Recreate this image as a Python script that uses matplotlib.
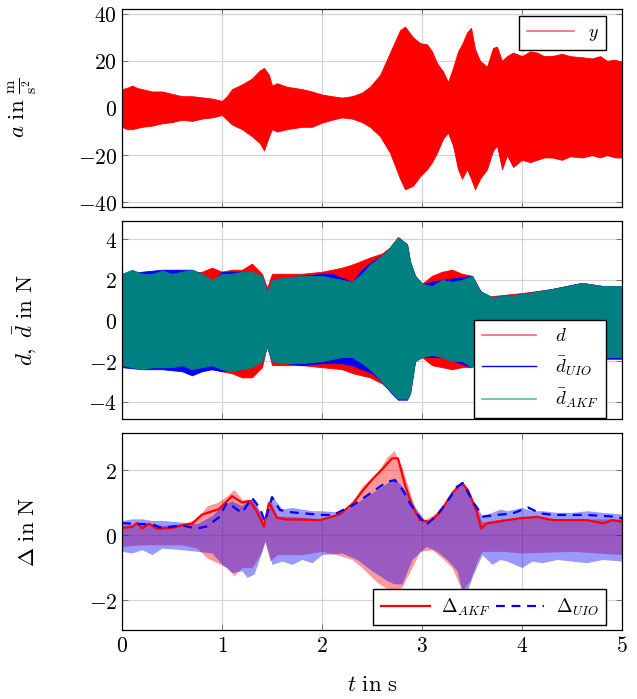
import numpy as np
import matplotlib
matplotlib.use("Agg")
import matplotlib.pyplot as plt
from matplotlib.ticker import FuncFormatter
from matplotlib.lines import Line2D

plt.rcParams['mathtext.fontset'] = 'cm'
plt.rcParams['font.family'] = 'serif'
plt.rcParams['font.serif'] = ['DejaVu Serif']

# --- panel 1: acceleration y (envelope) ---
t_y = [0.00, 0.05, 0.10, 0.15, 0.20, 0.30, 0.40, 0.50, 0.60, 0.70, 0.80, 0.90, 1.00,
       1.05, 1.10, 1.20, 1.30, 1.38, 1.42, 1.47, 1.50, 1.55, 1.65, 1.80, 1.90,
       2.00, 2.10, 2.20, 2.30, 2.40, 2.48, 2.58, 2.68, 2.78, 2.83, 2.91, 2.98,
       3.05, 3.10, 3.15, 3.21, 3.26, 3.31, 3.36, 3.40, 3.45, 3.49, 3.53, 3.58,
       3.65, 3.71, 3.75, 3.80, 3.85, 3.91, 4.00, 4.08, 4.15, 4.22, 4.30, 4.40,
       4.48, 4.60, 4.70, 4.78, 4.85, 4.93, 5.00]
y_up = [8, 8.5, 9.5, 8.5, 8, 7, 7, 6, 5, 5, 4.5, 4, 3,
        5, 8, 10, 12.5, 16, 17, 14, 9.5, 10.5, 9, 8, 7,
        5.7, 5, 4.4, 5, 6.5, 9, 14, 23.5, 33, 34.5, 30, 27.5,
        27, 24, 19, 15.5, 11, 17, 24, 27, 32, 34, 25, 20,
        17.5, 25.5, 26, 20, 22, 23.5, 22, 24, 23.5, 22, 22, 23,
        22, 21.5, 21, 22, 20, 20.5, 19.5]
y_lo = [-8, -9, -9, -8.5, -8, -7.5, -6.5, -6, -5, -5.5, -4.5, -4, -3,
        -5, -7, -9, -12, -15, -18, -12, -9, -10, -9, -8, -8,
        -6.2, -5, -4, -4.5, -6, -8, -12, -19, -30, -34.5, -33, -29,
        -26, -23, -19, -13, -10.5, -16, -26, -30, -26, -30, -34.5, -30,
        -26, -18, -16, -26, -20, -25, -22, -23, -22, -21, -21, -22,
        -20.5, -21, -20, -21, -20, -21, -21]

# --- panel 2: disturbance d and estimates ---
t_akf = [0.00, 0.10, 0.20, 0.30, 0.40, 0.50, 0.60, 0.70, 0.80, 0.90, 1.00, 1.10,
         1.20, 1.30, 1.40, 1.45, 1.50, 1.60, 1.80, 2.00, 2.20, 2.30, 2.40, 2.48,
         2.60, 2.68, 2.76, 2.85, 2.88, 2.93, 3.00, 3.10, 3.20, 3.30, 3.40, 3.50,
         3.58, 3.70, 4.00, 4.30, 4.60, 4.80, 5.00]
akf_up = [2.3, 2.5, 2.3, 2.3, 2.45, 2.3, 2.4, 2.5, 2.3, 2.0, 2.3, 2.3,
          2.4, 2.4, 2.2, 1.4, 2.0, 2.1, 2.2, 2.2, 2.0, 1.9, 2.3, 2.75,
          3.2, 3.6, 4.1, 3.75, 2.9, 2.2, 1.8, 1.7, 2.0, 1.9, 2.0, 2.2,
          1.45, 1.15, 1.3, 1.55, 1.85, 1.7, 1.7]
akf_lo = [-2.2, -2.3, -2.4, -2.3, -2.3, -2.3, -2.2, -2.4, -2.3, -2.2, -2.4, -2.5,
          -2.4, -2.3, -2.0, -1.3, -2.0, -2.1, -2.1, -2.0, -1.8, -1.8, -2.1, -2.4,
          -3.0, -3.45, -3.85, -3.85, -3.6, -2.0, -1.8, -1.7, -1.8, -2.0, -2.0, -2.3,
          -1.5, -1.2, -1.3, -1.5, -1.7, -1.8, -1.8]

t_uio = [0.00, 0.20, 0.40, 0.60, 0.70, 0.80, 0.90, 1.00, 1.10, 1.20, 1.40, 1.45,
         1.50, 1.80, 2.00, 2.10, 2.20, 2.30, 2.40, 2.50, 2.60, 2.68, 2.76, 2.85,
         2.88, 2.93, 3.00, 3.20, 3.50, 3.58, 3.70, 4.00, 4.30, 4.60, 4.80, 5.00]
uio_up = [2.3, 2.4, 2.5, 2.5, 2.5, 2.3, 1.9, 2.4, 2.4, 2.4, 2.2, 1.3,
          2.0, 2.2, 2.3, 2.3, 2.1, 1.9, 2.5, 2.9, 3.2, 3.6, 4.1, 3.75,
          2.9, 2.2, 1.8, 2.0, 2.2, 1.45, 1.15, 1.3, 1.55, 1.85, 1.7, 1.7]
uio_lo = [-2.3, -2.4, -2.4, -2.5, -2.7, -2.5, -2.4, -2.5, -2.4, -2.4, -2.0, -1.3,
          -2.0, -2.2, -2.1, -2.1, -2.1, -2.2, -2.4, -2.6, -3.0, -3.5, -3.9, -3.9,
          -3.6, -2.0, -1.8, -1.8, -2.3, -1.5, -1.2, -1.3, -1.5, -1.75, -1.85, -1.85]

t_d = [0.00, 0.20, 0.40, 0.60, 0.80, 0.90, 1.00, 1.10, 1.20, 1.30, 1.40, 1.45,
       1.50, 1.80, 2.00, 2.20, 2.31, 2.48, 2.60, 2.68, 2.76, 2.85, 2.88, 2.93,
       3.00, 3.10, 3.20, 3.30, 3.40, 3.50, 3.58, 3.65, 3.70, 4.00, 4.30, 4.60,
       4.80, 5.00]
d_up = [2.3, 2.3, 2.3, 2.3, 2.4, 2.6, 2.4, 2.5, 2.5, 2.8, 2.3, 1.6,
        2.3, 2.3, 2.4, 2.6, 2.77, 3.1, 3.3, 3.6, 4.1, 3.75, 2.9, 2.2,
        1.8, 2.2, 2.4, 2.5, 2.3, 2.2, 1.5, 1.0, 1.2, 1.35, 1.55, 1.85,
        1.7, 1.7]
d_lo = [-2.2, -2.3, -2.3, -2.3, -2.3, -2.4, -2.5, -2.6, -2.8, -2.8, -2.3, -1.2,
        -2.2, -2.2, -2.3, -2.4, -2.6, -2.8, -3.1, -3.45, -3.85, -3.85, -3.6, -2.0,
        -1.8, -2.2, -2.3, -2.4, -2.3, -2.3, -1.5, -1.2, -1.2, -1.3, -1.5, -1.75,
        -1.9, -1.9]

# --- panel 3: estimation errors ---
t_eakf = [0.00, 0.20, 0.40, 0.60, 0.75, 0.85, 0.95, 1.05, 1.12, 1.20, 1.30, 1.38,
          1.43, 1.48, 1.55, 1.80, 2.00, 2.20, 2.30, 2.40, 2.55, 2.65, 2.72, 2.80,
          2.90, 2.98, 3.10, 3.20, 3.30, 3.40, 3.48, 3.55, 3.60, 3.80, 4.00, 4.50, 5.00]
eakf_up = [0.3, 0.35, 0.3, 0.35, 0.5, 0.9, 1.0, 1.2, 1.4, 1.1, 1.1, 0.7,
           0.3, 1.1, 0.6, 0.55, 0.5, 0.7, 1.0, 1.5, 1.9, 2.4, 2.6, 2.1,
           1.1, 0.4, 0.6, 0.85, 1.3, 1.6, 1.3, 0.8, 0.4, 0.5, 0.55, 0.5, 0.5]
eakf_lo = [-0.35, -0.3, -0.3, -0.3, -0.4, -0.7, -0.85, -1.0, -1.25, -1.0, -1.0, -0.6,
           -0.2, -0.8, -0.6, -0.6, -0.5, -0.65, -0.75, -1.0, -1.45, -1.65, -1.75, -1.6,
           -1.0, -0.5, -0.45, -0.7, -1.0, -1.7, -1.4, -0.8, -0.5, -0.5, -0.55, -0.5, -0.6]

t_euio = [0.00, 0.10, 0.20, 0.30, 0.40, 0.60, 0.75, 0.90, 1.00, 1.10, 1.20, 1.25,
          1.32, 1.40, 1.43, 1.50, 1.60, 1.70, 1.80, 1.90, 2.00, 2.20, 2.35, 2.50,
          2.65, 2.72, 2.80, 2.90, 3.04, 3.15, 3.25, 3.35, 3.42, 3.50, 3.60, 3.70,
          3.78, 3.85, 4.00, 4.10, 4.20, 4.35, 4.50, 4.65, 4.80, 5.00]
euio_up = [0.45, 0.5, 0.5, 0.45, 0.45, 0.4, 0.35, 0.6, 0.9, 1.05, 0.9, 1.1,
           1.1, 0.6, 0.35, 1.2, 0.8, 0.85, 0.8, 0.75, 0.75, 0.7, 1.0, 1.3,
           1.6, 1.75, 1.5, 1.0, 0.4, 0.65, 1.0, 1.5, 1.6, 1.1, 0.6, 0.7,
           0.8, 0.75, 0.85, 0.75, 0.75, 0.7, 0.7, 0.75, 0.7, 0.65]
euio_lo = [-0.5, -0.55, -0.45, -0.6, -0.4, -0.45, -0.5, -0.55, -0.9, -1.15, -1.1, -1.3,
           -1.2, -0.5, -0.2, -0.9, -0.8, -0.9, -0.75, -0.85, -0.6, -0.55, -0.75, -1.1,
           -1.4, -1.5, -1.5, -0.75, -0.35, -0.5, -0.75, -1.1, -2.0, -1.3, -0.6, -0.9,
           -0.75, -0.8, -1.0, -0.8, -0.85, -0.75, -0.8, -0.85, -0.75, -0.8]

# mean error curves
t_dakf = [0.00, 0.10, 0.15, 0.20, 0.27, 0.35, 0.50, 0.60, 0.70, 0.80, 0.90, 0.97,
          1.10, 1.20, 1.28, 1.35, 1.42, 1.47, 1.55, 1.65, 1.75, 1.98, 2.18, 2.31,
          2.41, 2.51, 2.61, 2.70, 2.76, 2.83, 2.90, 2.98, 3.08, 3.18, 3.31, 3.40,
          3.46, 3.55, 3.59, 3.65, 3.75, 3.98, 4.15, 4.31, 4.65, 4.81, 4.90, 5.00]
dakf = [0.22, 0.25, 0.37, 0.2, 0.35, 0.2, 0.22, 0.3, 0.35, 0.63, 0.73, 0.8,
        1.2, 1.0, 1.05, 0.72, 0.26, 0.99, 0.53, 0.48, 0.48, 0.46, 0.64, 0.98,
        1.38, 1.74, 2.05, 2.36, 2.36, 1.54, 0.92, 0.46, 0.41, 0.7, 1.32, 1.6,
        1.38, 0.7, 0.21, 0.36, 0.41, 0.52, 0.56, 0.46, 0.46, 0.36, 0.46, 0.41]

t_duio = [0.00, 0.10, 0.30, 0.40, 0.60, 0.75, 0.85, 0.97, 1.05, 1.10, 1.20, 1.30,
          1.38, 1.43, 1.50, 1.58, 1.70, 1.85, 2.00, 2.11, 2.31, 2.48, 2.65, 2.73,
          2.81, 2.88, 2.96, 3.04, 3.15, 3.25, 3.35, 3.41, 3.51, 3.61, 3.75, 3.91,
          4.06, 4.18, 4.31, 4.65, 4.91, 5.00]
duio = [0.37, 0.35, 0.33, 0.22, 0.3, 0.2, 0.27, 0.55, 1.0, 0.9, 0.68, 1.15,
        0.82, 0.41, 1.17, 0.77, 0.7, 0.66, 0.62, 0.62, 0.92, 1.28, 1.64, 1.69,
        1.38, 0.97, 0.62, 0.31, 0.62, 1.02, 1.49, 1.6, 1.02, 0.57, 0.62, 0.67,
        0.85, 0.67, 0.62, 0.62, 0.57, 0.52]

teal = '#008080'

fig = plt.figure(figsize=(6.37, 6.99), dpi=100)
ax1 = fig.add_axes([0.1915, 0.7039, 0.785, 0.2833])
ax2 = fig.add_axes([0.1915, 0.4006, 0.785, 0.2833])
ax3 = fig.add_axes([0.1915, 0.0987, 0.785, 0.2818])

fmt = FuncFormatter(lambda v, p: r'$%g$' % v)

for ax in (ax1, ax2, ax3):
    ax.set_xlim(0, 5)
    ax.set_xticks([0, 1, 2, 3, 4, 5])
    ax.grid(True, color='#d4d4d4', lw=0.9)
    ax.set_axisbelow(True)
    ax.tick_params(direction='in', length=4, width=0.6, color='#666666',
                   top=True, right=True, labelsize=15.5)
    ax.yaxis.set_major_formatter(fmt)
    ax.xaxis.set_major_formatter(fmt)
    for s in ax.spines.values():
        s.set_linewidth(0.9)
    ax.yaxis.set_label_coords(-0.165, 0.5)

ax1.tick_params(labelbottom=False)
ax2.tick_params(labelbottom=False)

# panel 1
ax1.fill_between(t_y, y_lo, y_up, color='red', lw=0.6, edgecolor='red')
ax1.set_ylim(-42, 42)
ax1.set_yticks([-40, -20, 0, 20, 40])
ax1.set_ylabel(r'$a\ \mathrm{in}\ \frac{\mathrm{m}}{\mathrm{s}^2}$', fontsize=16.5)
ax1.legend([Line2D([], [], color='red', alpha=0.6, lw=1.2)], [r'$y$'],
           loc='upper right', bbox_to_anchor=(0.968, 0.965), borderaxespad=0,
           fancybox=False, framealpha=1, edgecolor='black', fontsize=13,
           handlelength=2.6)

# panel 2
ax2.fill_between(t_d, d_lo, d_up, color='red', lw=0.6, edgecolor='red')
ax2.fill_between(t_uio, uio_lo, uio_up, color='blue', lw=0.6, edgecolor='blue')
ax2.fill_between(t_akf, akf_lo, akf_up, color=teal, lw=0.6, edgecolor=teal)
ax2.set_ylim(-4.85, 4.9)
ax2.set_yticks([-4, -2, 0, 2, 4])
ax2.set_ylabel(r'$d,\ \bar{d}\ \mathrm{in}\ \mathrm{N}$', fontsize=16.5)
h2 = [Line2D([], [], color='red', alpha=0.6, lw=1.2),
      Line2D([], [], color='blue', lw=1.0),
      Line2D([], [], color=teal, alpha=0.6, lw=1.2)]
ax2.legend(h2, [r'$d$', r'$\bar{d}_{UIO}$', r'$\bar{d}_{AKF}$'],
           loc='lower right', bbox_to_anchor=(0.968, 0.005), borderaxespad=0,
           fancybox=False, framealpha=1, edgecolor='black', fontsize=13.5,
           handlelength=2.9, labelspacing=0.5, handletextpad=1.0)

# panel 3
ax3.fill_between(t_eakf, eakf_lo, eakf_up, color='red', alpha=0.4, lw=0)
ax3.fill_between(t_euio, euio_lo, euio_up, color='blue', alpha=0.4, lw=0)
ax3.plot(t_dakf, dakf, color='red', lw=1.6, label=r'$\Delta_{AKF}$')
ax3.plot(t_duio, duio, color='blue', lw=1.6, ls=(0, (4, 3)), label=r'$\Delta_{UIO}$')
ax3.set_ylim(-2.92, 3.14)
ax3.set_yticks([-2, 0, 2])
ax3.set_ylabel(r'$\Delta\ \mathrm{in}\ \mathrm{N}$', fontsize=16.5)
ax3.set_xlabel(r'$t\ \mathrm{in}\ \mathrm{s}$', fontsize=16.5)
ax3.xaxis.set_label_coords(0.5, -0.225)
ax3.legend(loc='lower right', bbox_to_anchor=(0.968, 0.025), borderaxespad=0,
           ncol=2, fancybox=False, framealpha=1, edgecolor='black', fontsize=13.5,
           handlelength=2.6, columnspacing=0.3, handletextpad=0.6)

fig.savefig('out.png', dpi=100)
